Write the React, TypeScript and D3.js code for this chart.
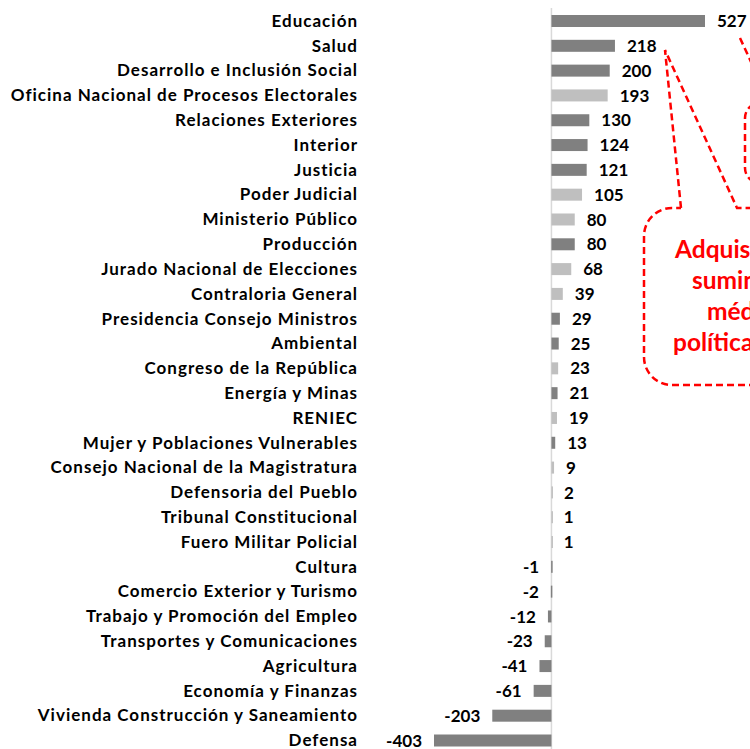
import React from "react";
import * as d3 from "d3";

const categories = [
  "Educación",
  "Salud",
  "Desarrollo e Inclusión Social",
  "Oficina Nacional de Procesos Electorales",
  "Relaciones Exteriores",
  "Interior",
  "Justicia",
  "Poder Judicial",
  "Ministerio Público",
  "Producción",
  "Jurado Nacional de Elecciones",
  "Contraloria General",
  "Presidencia Consejo Ministros",
  "Ambiental",
  "Congreso de la República",
  "Energía y Minas",
  "RENIEC",
  "Mujer y Poblaciones Vulnerables",
  "Consejo Nacional de la Magistratura",
  "Defensoria del Pueblo",
  "Tribunal Constitucional",
  "Fuero Militar Policial",
  "Cultura",
  "Comercio Exterior y Turismo",
  "Trabajo y Promoción del Empleo",
  "Transportes y Comunicaciones",
  "Agricultura",
  "Economía y Finanzas",
  "Vivienda Construcción y Saneamiento",
  "Defensa",
];

const values = [
  527, 218, 200, 193, 130, 124, 121, 105, 80, 80, 68, 39, 29, 25, 23, 21, 19,
  13, 9, 2, 1, 1, -1, -2, -12, -23, -41, -61, -203, -403,
];

// Categories drawn with the lighter grey
const lightCategories = [
  "Oficina Nacional de Procesos Electorales",
  "Poder Judicial",
  "Ministerio Público",
  "Jurado Nacional de Elecciones",
  "Contraloria General",
  "Congreso de la República",
  "RENIEC",
  "Consejo Nacional de la Magistratura",
  "Defensoria del Pueblo",
  "Tribunal Constitucional",
  "Fuero Militar Policial",
];

const calloutLines = ["Adquisición", "suministros", "médicos", "políticas"];

const W = 750;
const H = 749;
const FONT = "Lato, 'Open Sans', sans-serif";
const DARK = "#808080";
const LIGHT = "#BFBFBF";
const RED = "#FF0000";

export default function App() {
  const x = d3.scaleLinear().domain([-403, 527]).range([434, 705]);
  const y = d3.scalePoint<string>().domain(categories).range([21, 740.5]);
  const barH = 12;
  const x0 = x(0);

  // callout shapes
  const c1 = d3.path();
  {
    const left = 644, top = 208, bottom = 385, r = 28;
    c1.moveTo(681, top);
    c1.lineTo(665, 50);
    c1.lineTo(737, top);
    c1.lineTo(800, top);
    c1.moveTo(800, bottom);
    c1.lineTo(left + r, bottom);
    c1.arcTo(left, bottom, left, bottom - r, r);
    c1.lineTo(left, top + r);
    c1.arcTo(left, top, left + r, top, r);
    c1.lineTo(681, top);
  }
  const c2 = d3.path();
  {
    const left = 745, top = 103, bottom = 183, r = 15;
    c2.moveTo(740, 38);
    c2.lineTo(770, top);
    c2.lineTo(left + r, top);
    c2.arcTo(left, top, left, top + r, r);
    c2.lineTo(left, bottom - r);
    c2.arcTo(left, bottom, left + r, bottom, r);
    c2.lineTo(800, bottom);
  }

  return (
    <svg
      width={W}
      height={H}
      style={{ position: "absolute", left: 0, top: 0, background: "#fff" }}
      fontFamily={FONT}
    >
      {/* zero axis */}
      <line x1={x0} x2={x0} y1={8} y2={H} stroke="#D9D9D9" strokeWidth={1.5} />

      {categories.map((c, i) => {
        const v = values[i];
        const cy = y(c)!;
        const xa = Math.min(x(0), x(v));
        const w = Math.max(Math.abs(x(v) - x(0)), 1.5);
        const fill = lightCategories.includes(c) ? LIGHT : DARK;
        return (
          <g key={c}>
            <rect
              x={v < 0 ? x(v) : xa}
              y={cy - barH / 2}
              width={w}
              height={barH}
              fill={fill}
            />
            <text
              x={358}
              y={cy}
              dy="0.34em"
              textAnchor="end"
              fontSize={17}
              letterSpacing={1}
              fontWeight={700}
              fill="#000"
            >
              {c}
            </text>
            <text
              x={v >= 0 ? x(v) + 12 : x(v) - 12}
              y={cy}
              dy="0.36em"
              textAnchor={v >= 0 ? "start" : "end"}
              fontSize={17}
              fontWeight={700}
              fill="#000"
            >
              {v}
            </text>
          </g>
        );
      })}

      {/* callouts */}
      <path
        d={c1.toString()}
        fill="none"
        stroke={RED}
        strokeWidth={2.5}
        strokeDasharray="7 4"
      />
      <path
        d={c2.toString()}
        fill="none"
        stroke={RED}
        strokeWidth={2.5}
        strokeDasharray="7 4"
      />
      {calloutLines.map((t, i) => (
        <text
          key={t}
          x={[675, 692, 707, 673][i]}
          y={258 + i * 31}
          fontSize={24.5}
          fontWeight={700}
          fill={RED}
        >
          {t}
        </text>
      ))}
    </svg>
  );
}
